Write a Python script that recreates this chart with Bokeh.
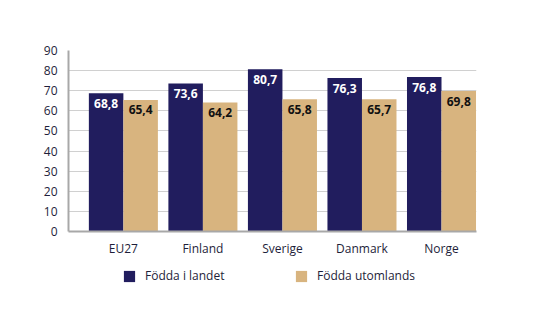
from bokeh.plotting import figure
from bokeh.layouts import column
from bokeh.models import Range1d, FixedTicker, Legend, LegendItem, ColumnDataSource
from bokeh.core.properties import value
from bokeh.embed import file_html
from bokeh.resources import INLINE

categories = ["EU27", "Finland", "Sverige", "Danmark", "Norge"]
fodda_i_landet = [68.8, 73.6, 80.7, 76.3, 76.8]
fodda_utomlands = [65.4, 64.2, 65.8, 65.7, 69.8]
series_names = ["Födda i landet", "Födda utomlands"]
y_ticks = [0, 10, 20, 30, 40, 50, 60, 70, 80, 90]

NAVY = "#211d5e"
TAN = "#d8b47f"
FONT = "Open Sans"
TEXT_COL = "#1e1e3a"

bw = 0.434
idx = list(range(len(categories)))
x1 = [i - bw / 2 for i in idx]
x2 = [i + bw / 2 for i in idx]

fmt = lambda v: f"{v:.1f}".replace(".", ",")
s1 = ColumnDataSource(dict(x=x1, top=fodda_i_landet, lab=[fmt(v) for v in fodda_i_landet]))
s2 = ColumnDataSource(dict(x=x2, top=fodda_utomlands, lab=[fmt(v) for v in fodda_utomlands]))

p = figure(width=539, height=261, output_backend="svg", toolbar_location=None,
           x_range=Range1d(-0.69, 4.44), y_range=Range1d(0, 90),
           min_border_left=68, min_border_right=63, min_border_top=50, min_border_bottom=30)
p.outline_line_color = None
p.background_fill_color = "white"
p.border_fill_color = "white"

r1 = p.vbar(x="x", top="top", width=bw, source=s1, color=NAVY, line_color=None)
r2 = p.vbar(x="x", top="top", width=bw, source=s2, color=TAN, line_color=None)

p.text(x="x", y="top", text="lab", source=s1, text_color="white", text_font=value(FONT),
       text_font_size="12px", text_font_style="bold", text_align="center",
       text_baseline="middle", y_offset=10)
p.text(x="x", y="top", text="lab", source=s2, text_color="#111111", text_font=value(FONT),
       text_font_size="12px", text_font_style="bold", text_align="center",
       text_baseline="middle", y_offset=10)

p.xgrid.grid_line_color = None
p.ygrid.grid_line_color = "#d0d0d0"
p.ygrid.ticker = FixedTicker(ticks=y_ticks)

p.yaxis.ticker = FixedTicker(ticks=y_ticks)
p.xaxis.ticker = FixedTicker(ticks=idx)
p.xaxis.major_label_overrides = {i: c for i, c in enumerate(categories)}
for ax in (p.xaxis, p.yaxis):
    ax.axis_line_color = "#a8a8a8"
    ax.axis_line_width = 2
    ax.major_tick_line_color = None
    ax.minor_tick_line_color = None
    ax.major_label_text_font = FONT
    ax.major_label_text_font_size = "12px"
    ax.major_label_text_color = TEXT_COL
p.yaxis.major_label_standoff = 5
p.xaxis.major_label_standoff = 2

# legend strip below the chart (frame is aligned with the chart frame by the column layout)
pl = figure(width=539, height=60, output_backend="svg", toolbar_location=None,
            x_axis_type=None, y_axis_type=None, x_range=Range1d(0, 1), y_range=Range1d(0, 1),
            min_border_left=68, min_border_right=63, min_border_top=0, min_border_bottom=0)
pl.outline_line_color = None
pl.xgrid.grid_line_color = None
pl.ygrid.grid_line_color = None
pl.background_fill_color = "white"
pl.border_fill_color = "white"
nan = float("nan")
d1 = pl.vbar(x=[nan], top=[nan], width=0.1, fill_color=NAVY, line_color=None)
d2 = pl.vbar(x=[nan], top=[nan], width=0.1, fill_color=TAN, line_color=None)
for r, name, xloc in ((d1, series_names[0], 54), (d2, series_names[1], 226)):
    lg = Legend(items=[LegendItem(label=name, renderers=[r])], location=(xloc, 37),
                padding=0, margin=0, border_line_color=None, background_fill_alpha=0,
                glyph_width=14, glyph_height=14, label_standoff=9,
                label_text_font=FONT, label_text_font_size="12px", label_text_color=TEXT_COL,
                label_height=14)
    pl.add_layout(lg, "center")

layout = column(p, pl, spacing=0)
open("out.html", "w").write(file_html(layout, INLINE))
